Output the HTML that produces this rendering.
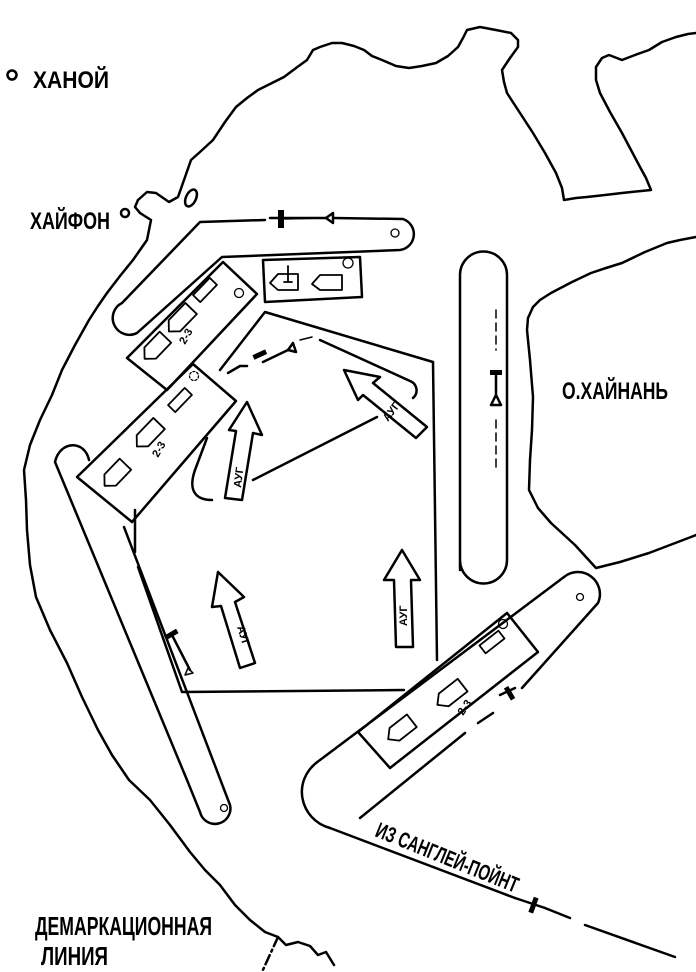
<!DOCTYPE html>
<html><head><meta charset="utf-8"><style>
html,body{margin:0;padding:0;background:#fff;}
svg{display:block;}
text{font-family:"Liberation Sans Narrow","Liberation Sans",sans-serif;font-weight:bold;fill:#000;}
</style></head><body>
<svg width="696" height="972" viewBox="0 0 696 972" xmlns="http://www.w3.org/2000/svg">
<g fill="none" stroke="#000" stroke-width="2.5" stroke-linejoin="round" stroke-linecap="round">
<path d="M138,200 L147,192 L156,193 L169,202 L178,197 L184,180 L191,160 L200,152 L213,140 L225,122 L236,107 L247,98 L258,90 L270,84 L284,77 L296,68 L307,60 L313,50 L320,47 L332,43 L342,43 L354,46 L364,50 L372,56 L382,60 L396,66 L409,68 L422,66 L436,63 L448,56 L458,47 L463,38 L467,30 L480,27 L496,30 L511,33 L518,40 L518,47 L510,58 L502,70 L504,82 L507,93 L520,113 L533,133 L545,153 L556,173 L562,188 L564,200 L576,198 L587,197 L605,195 L622,193 L651,190 L646,178 L640,167 L631,150 L622,133 L610,112 L600,93 L596,80 L596,67 L602,58 L609,55 L622,60 L635,55 L649,50 L662,42 L676,37 L688,34 L696,33"/>
<path d="M138,200 L135,207 L140,213 L151,220 L149,230 L147,240 L140,250 L133,260 L120,276 L107,293 L98,306 L89,320 L75,345 L62,370 L52,395 L40,420 L30,445 L24,470 L26,500 L27,530 L30,565 L36,597 L50,630 L67,663 L82,697 L98,730 L112,755 L129,780 L150,800 L170,825 L190,852 L205,870 L220,885 L235,905 L250,920 L265,932 L278,937 L286,945 L298,942 L310,946 L318,955 L326,952 L334,965"/>
<path d="M278,937 L262,972" stroke-dasharray="10 4 2 4"/>
<ellipse cx="191" cy="198" rx="5" ry="9" transform="rotate(25 191 198)"/>
<path d="M696,237 L680,240 L667,243 L645,252 L622,263 L606,268 L591,273 L572,282 L551,293 L540,300 L533,307 L528,318 L527,330 L530,360 L533,397 L532,430 L530,460 L529,490 L538,508 L551,523 L575,545 L596,568 L620,562 L649,553 L670,545 L691,537 L696,535"/>
<path d="M265,220 L200,222 L122,303 A14,14 0 0 0 137,333 L222,257 L400,250 A16,16 0 0 0 403,219 L333,218"/>
<path d="M285,219 L324,218" stroke-width="1.5"/>
<path d="M263,260 L360,257 L362,297 L265,302 Z"/>
<path d="M223,262 L257,294 L167,390 L127,358 Z"/>
<path d="M193,364 L236,401 L132,522 L77,477 Z"/>
<path d="M89,460 C85,440 60,440 55,462 L187,780 L200,812 A15,15 0 0 0 230,805 L124,527"/>
<path d="M220,370 L265,312 L433,362 L437,660"/>
<path d="M135,510 L135,552"/>
<path d="M138,567 L182,692 L404,690"/>
<path d="M320,340 L410,381 A10,10 0 0 1 413,398"/>
<path d="M300,340 L312,337" stroke-width="1.5"/>
<path d="M377,417 L253,480"/>
<path d="M207,438 L195,470 C188,490 195,500 212,500"/>
<path d="M228,373 L240,366 L247,366"/>
<path d="M460,570 L460,275 A23,23 0 0 1 507,275 L507,560 A23,23 0 0 1 460,560"/>
<path d="M496,310 L496,350 M496,420 L496,470" stroke-width="1.5" stroke-dasharray="8 5"/>
<path d="M496,375 L496,395"/>
<path d="M496,395 L491,405 L501,405 Z"/>
<path d="M360,730 L564,577 A22,22 0 0 1 598,603 L522,688"/>
<path d="M478,723 L493,713 M465,733 L360,818"/>
<path d="M360,730 L320,760 C290,780 300,820 330,828"/>
<path d="M507,613 L538,652 L390,768 L358,732 Z"/>
<path d="M330,828 L515,898"/>
<path d="M545,908 L570,918 M585,925 L675,957"/>
<path d="M247,402 L229,430 L236,431 L225,498 L242,500 L253,433 L262,435 Z"/>
<path d="M344,370 L358,400 L363,395 L416,438 L427,427 L373,383 L380,377 Z"/>
<path d="M218,572 L212,607 L221,606 L240,668 L255,663 L235,602 L244,597 Z"/>
<path d="M402,550 L384,580 L394,580 L396,647 L413,647 L411,580 L420,580 Z"/>
<path d="M270,218 L326,218"/>
<path d="M326,218 L333,213 L333,223 Z"/>
<path d="M263,362 L288,350"/>
<path d="M288,350 L293,343 L296,352 Z"/>
<path d="M172,635 L190,670"/>
<path d="M188,668 L185,675 L193,673 Z" stroke-width="1.5"/>
<path d="M500,695 L515,688"/>
<path d="M515,898 L545,908"/>
<circle cx="12" cy="75" r="4.5"/>
<circle cx="125" cy="213" r="4"/>
<circle cx="395" cy="233" r="4" stroke-width="1.3"/>
<circle cx="239" cy="293" r="4.5" stroke-width="1.3"/>
<circle cx="348" cy="263" r="5" stroke-width="1.3"/>
<circle cx="194" cy="376" r="4.5" stroke-width="1.3" stroke-dasharray="2 2"/>
<circle cx="224" cy="808" r="3.5" stroke-width="1.3"/>
<circle cx="580" cy="597" r="3.5" stroke-width="1.3"/>
<circle cx="503" cy="624" r="4.5" stroke-width="1.3"/>
<g stroke-width="1.8">
<path d="M270,283 L278,274 L298,274 L298,290 L278,290 Z"/>
<path d="M288,266 L288,282 M284,282 L292,282"/>
<path d="M312,284 L320,275 L342,275 L342,290 L320,290 Z"/>
<g transform="rotate(-46 205 290)"><rect x="193" y="285" width="24" height="10"/></g>
<g transform="rotate(-46 180 320)"><path d="M164,320 L172,312 L196,312 L196,328 L172,328 Z"/></g>
<g transform="rotate(-46 155 348)"><path d="M140,348 L148,340 L170,340 L170,356 L148,356 Z"/></g>
<g transform="rotate(-46 180 400)"><rect x="168" y="395" width="24" height="10"/></g>
<g transform="rotate(-46 148 435)"><path d="M132,435 L140,427 L164,427 L164,443 L140,443 Z"/></g>
<g transform="rotate(-46 115 475)"><path d="M100,475 L108,467 L130,467 L130,483 L108,483 Z"/></g>
<g transform="rotate(-38 492 642)"><rect x="480" y="637" width="24" height="10"/></g>
<g transform="rotate(-38 450 695)"><path d="M434,695 L442,687 L466,687 L466,703 L442,703 Z"/></g>
<g transform="rotate(-38 400 730)"><path d="M385,730 L393,722 L415,722 L415,738 L393,738 Z"/></g>
</g>
</g>
<g fill="#000">
<rect x="278" y="210" width="6" height="18"/>
<rect x="253" y="352" width="14" height="5" transform="rotate(-25 260 355)"/>
<rect x="164" y="632" width="14" height="5" transform="rotate(-30 171 634)"/>
<rect x="490" y="370" width="12" height="5"/>
<rect x="507" y="686" width="5" height="14" transform="rotate(-30 510 693)"/>
<rect x="531" y="897" width="5" height="16" transform="rotate(20 533 905)"/>
</g>
<text x="33" y="88" font-size="24" textLength="76" lengthAdjust="spacingAndGlyphs">ХАНОЙ</text>
<text x="30" y="229" font-size="24" textLength="80" lengthAdjust="spacingAndGlyphs">ХАЙФОН</text>
<text x="562" y="399" font-size="24" textLength="106" lengthAdjust="spacingAndGlyphs">О.ХАЙНАНЬ</text>
<text x="35" y="935" font-size="26" textLength="177" lengthAdjust="spacingAndGlyphs">ДЕМАРКАЦИОННАЯ</text>
<text x="41" y="965" font-size="26" textLength="67" lengthAdjust="spacingAndGlyphs">ЛИНИЯ</text>
<text x="0" y="0" font-size="22" textLength="152" lengthAdjust="spacingAndGlyphs" transform="translate(374,836) rotate(22)">ИЗ САНГЛЕЙ-ПОЙНТ</text>
<g font-size="11">
<text x="0" y="0" transform="translate(241,488) rotate(-83)">АУГ</text>
<text x="0" y="0" transform="translate(388,422) rotate(-53)">АУГ</text>
<text x="0" y="0" transform="translate(237,627) rotate(73)">АУГ</text>
<text x="0" y="0" transform="translate(407,626) rotate(-90)">АУГ</text>
<text x="0" y="0" transform="translate(185,345) rotate(-60)">2-3</text>
<text x="0" y="0" transform="translate(158,458) rotate(-60)">2-3</text>
<text x="0" y="0" transform="translate(463,716) rotate(-55)">2-3</text>
</g>
</svg>
</body></html>
